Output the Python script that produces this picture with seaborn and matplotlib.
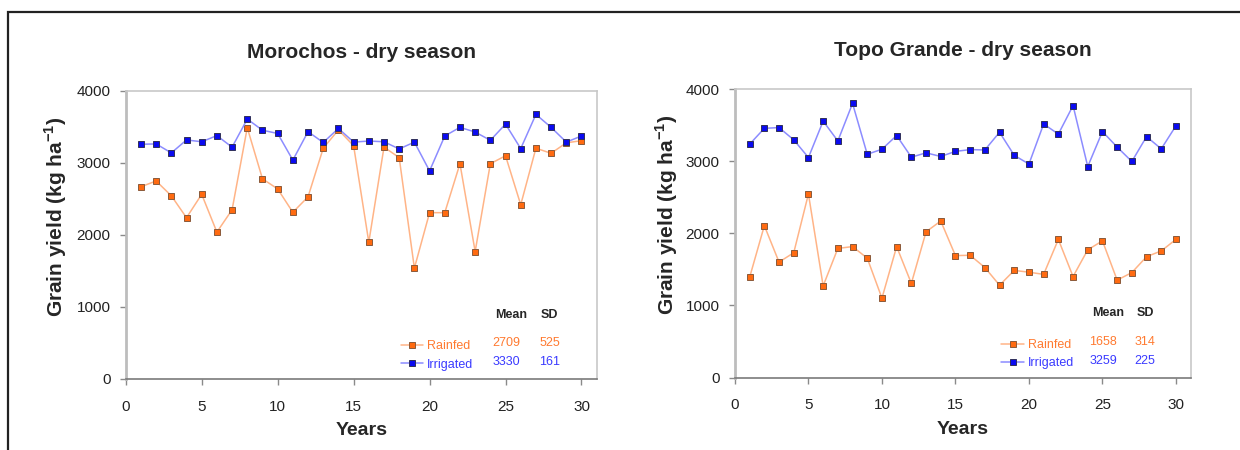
import numpy as np
import pandas as pd
import seaborn as sns
import matplotlib.pyplot as plt
from matplotlib.patches import Rectangle

# data
years = list(range(1, 31))

morochos_rainfed = [2670, 2750, 2545, 2240, 2565, 2040, 2350, 3490, 2780, 2640,
                    2315, 2530, 3205, 3460, 3240, 1900, 3220, 3075, 1540, 2310,
                    2310, 2990, 1770, 2990, 3100, 2420, 3205, 3135, 3280, 3310]
morochos_irrigated = [3260, 3265, 3140, 3320, 3295, 3380, 3220, 3610, 3455, 3410,
                      3040, 3435, 3285, 3480, 3290, 3305, 3295, 3195, 3290, 2890,
                      3375, 3495, 3430, 3315, 3540, 3200, 3675, 3495, 3290, 3375]

topo_rainfed = [1390, 2105, 1600, 1730, 2545, 1270, 1790, 1815, 1655, 1100,
                1815, 1305, 2020, 2170, 1690, 1695, 1525, 1280, 1485, 1460,
                1430, 1915, 1400, 1770, 1895, 1350, 1455, 1675, 1755, 1915]
topo_irrigated = [3235, 3455, 3465, 3295, 3050, 3555, 3280, 3800, 3095, 3165,
                  3355, 3055, 3115, 3065, 3135, 3160, 3155, 3400, 3080, 2960,
                  3515, 3375, 3770, 2925, 3410, 3195, 2995, 3340, 3170, 3490]

titles = ['Morochos - dry season', 'Topo Grande - dry season']
series_names = ['Rainfed', 'Irrigated']
means = [[2709, 3330], [1658, 3259]]
sds = [[525, 161], [314, 225]]

panels = [(morochos_rainfed, morochos_irrigated), (topo_rainfed, topo_irrigated)]

sns.set_style('white')
plt.rcParams['font.family'] = ['Liberation Sans', 'DejaVu Sans']
plt.rcParams['mathtext.fontset'] = 'custom'
plt.rcParams['mathtext.rm'] = 'Liberation Sans'
plt.rcParams['mathtext.bf'] = 'Liberation Sans:bold'

line_cols = ['#FFB487', '#8C8CFF']
face_cols = ['#FF6A10', '#0A0AF0']
edge_cols = ['#8A5A3A', '#30305A']
text_cols = ['#FF7A30', '#3A3AFF']

fig = plt.figure(figsize=(12.4, 4.5), dpi=100)
ax_l = fig.add_axes([0.1014, 0.1578, 0.3798, 0.640])
ax_r = fig.add_axes([0.5927, 0.1611, 0.3675, 0.6411])

# outer frame of the original figure
fig.patches.append(Rectangle((8 / 1240, -0.1), 1.2, 1 - 12 / 450 + 0.1,
                             transform=fig.transFigure, fill=False,
                             edgecolor='#222222', linewidth=1.6))

for ax, (rain, irr), title, mn, sd in zip([ax_l, ax_r], panels, titles, means, sds):
    df = pd.DataFrame({'Year': years, 'Rainfed': rain, 'Irrigated': irr})
    for i, name in enumerate(series_names):
        sns.lineplot(data=df, x='Year', y=name, ax=ax, color=line_cols[i],
                     linewidth=1.1, marker='s', markersize=5,
                     markerfacecolor=face_cols[i], markeredgecolor=edge_cols[i],
                     markeredgewidth=0.7, label=name)

    ax.set_xlim(0, 31)
    ax.set_ylim(0, 4000)
    ax.set_xticks(range(0, 31, 5))
    ax.set_yticks(range(0, 4001, 1000))
    ax.tick_params(axis='both', direction='out', length=4, width=1,
                   color='#8a8a8a', labelsize=11, labelcolor='#222222',
                   bottom=True, left=True)
    ax.tick_params(axis='x', pad=11)
    ax.tick_params(axis='y', pad=7)
    for side in ['top', 'right']:
        ax.spines[side].set_color('#c8c8c8')
        ax.spines[side].set_linewidth(1.2)
    ax.spines['left'].set_color('#bdbdbd')
    ax.spines['left'].set_linewidth(2)
    ax.spines['bottom'].set_color('#7a7a7a')
    ax.spines['bottom'].set_linewidth(1.2)

    ax.set_title(title, fontsize=15, fontweight='bold', pad=24)
    ax.set_xlabel('Years', fontsize=14, fontweight='bold', labelpad=6)
    ax.set_ylabel('Grain yield (kg ha$^{\\mathbf{-1}}$)', fontsize=15,
                  fontweight='bold')
    ax.yaxis.set_label_coords(-0.12, 0.565)

    ax.legend(loc='lower left', bbox_to_anchor=(0.56, -0.01), frameon=False,
              fontsize=9, handlelength=1.8, handletextpad=0.3,
              labelspacing=0.5, labelcolor=text_cols)
    ax.text(0.818, 0.222, 'Mean', transform=ax.transAxes, ha='center',
            va='center', fontsize=9, fontweight='bold')
    ax.text(0.9, 0.222, 'SD', transform=ax.transAxes, ha='center',
            va='center', fontsize=9, fontweight='bold')
    for i, yy in enumerate([0.124, 0.058]):
        ax.text(0.808, yy, str(mn[i]), transform=ax.transAxes, ha='center',
                va='center', fontsize=9, color=text_cols[i])
        ax.text(0.9, yy, str(sd[i]), transform=ax.transAxes, ha='center',
                va='center', fontsize=9, color=text_cols[i])

fig.savefig('out.png', dpi=100)
